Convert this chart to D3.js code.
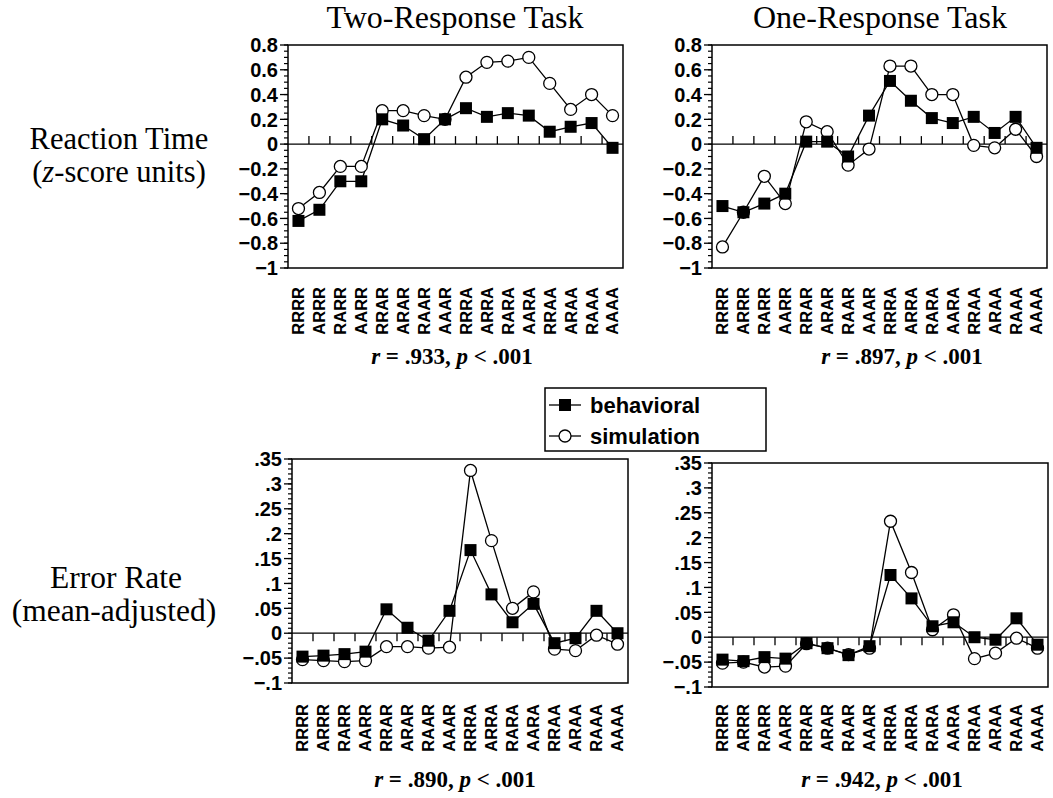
<!doctype html>
<html>
<head>
<meta charset="utf-8">
<script src="https://d3js.org/d3.v7.min.js"></script>
<style>
  body { margin: 0; background: #fff; }
  svg { display: block; }
  .serif { font-family: "Liberation Serif", "Times New Roman", serif; fill: #000; }
  .sans { font-family: "Liberation Sans", Arial, sans-serif; font-weight: bold; fill: #000; }
</style>
</head>
<body>
<div id="chart"></div>
<script>
// conditions (sequence of R / A trials)
var categories = ["RRRR","ARRR","RARR","AARR","RRAR","ARAR","RAAR","AAAR",
                  "RRRA","ARRA","RARA","AARA","RRAA","ARAA","RAAA","AAAA"];

// reaction time, z-score units
var rtTwoBehavioral = [-0.62,-0.53,-0.30,-0.30,0.20,0.15,0.04,0.20,0.29,0.22,0.25,0.23,0.10,0.14,0.17,-0.03];
var rtTwoSimulation = [-0.52,-0.39,-0.18,-0.18,0.27,0.27,0.23,0.20,0.54,0.66,0.67,0.70,0.49,0.28,0.40,0.23];
var rtOneBehavioral = [-0.50,-0.55,-0.48,-0.40,0.02,0.02,-0.10,0.23,0.51,0.35,0.21,0.17,0.22,0.09,0.22,-0.03];
var rtOneSimulation = [-0.83,-0.55,-0.26,-0.48,0.18,0.10,-0.17,-0.04,0.63,0.63,0.40,0.40,-0.01,-0.03,0.12,-0.10];

// error rate, mean-adjusted
var errTwoBehavioral = [-0.047,-0.045,-0.042,-0.037,0.048,0.011,-0.015,0.045,0.167,0.078,0.022,0.059,-0.020,-0.010,0.045,0.000];
var errTwoSimulation = [-0.053,-0.055,-0.057,-0.055,-0.027,-0.027,-0.030,-0.028,0.327,0.186,0.050,0.083,-0.032,-0.035,-0.004,-0.022];
var errOneBehavioral = [-0.045,-0.048,-0.040,-0.043,-0.012,-0.022,-0.036,-0.018,0.125,0.078,0.022,0.030,0.000,-0.005,0.038,-0.015];
var errOneSimulation = [-0.052,-0.050,-0.060,-0.058,-0.013,-0.022,-0.035,-0.022,0.233,0.130,0.015,0.045,-0.043,-0.032,-0.002,-0.022];

// axis ticks
var rtTicks = [0.8,0.6,0.4,0.2,0,-0.2,-0.4,-0.6,-0.8,-1];
var rtTickLabels = ["0.8","0.6","0.4","0.2","0","\u22120.2","\u22120.4","\u22120.6","\u22120.8","\u22121"];
var errTicks = [0.35,0.3,0.25,0.2,0.15,0.1,0.05,0,-0.05,-0.1];
var errTickLabels = [".35",".3",".25",".2",".15",".1",".05","0","\u2212.05","\u2212.1"];

var svg = d3.select("#chart").append("svg")
    .attr("width", 1053)
    .attr("height", 798);

function drawPanel(p) {
  var x = d3.scaleBand().domain(categories).range([p.left, p.right]);
  var y = d3.scaleLinear().domain([p.ticks[p.ticks.length - 1], p.ticks[0]]).range([p.bottom, p.top]);
  var g = svg.append("g");

  // frame
  g.append("rect")
    .attr("x", p.left).attr("y", p.top)
    .attr("width", p.right - p.left).attr("height", p.bottom - p.top)
    .attr("fill", "none").attr("stroke", "#000").attr("stroke-width", 1.5);

  // minor ticks
  var minor = d3.range(Math.round((y.domain()[1] - y.domain()[0]) / p.minorStep) + 1)
    .map(function(i) { return y.domain()[0] + i * p.minorStep; });
  g.selectAll(".minor").data(minor).enter().append("line")
    .attr("x1", p.left - 4).attr("x2", p.left)
    .attr("y1", function(d) { return y(d); }).attr("y2", function(d) { return y(d); })
    .attr("stroke", "#000").attr("stroke-width", 1.2);

  // major ticks + labels
  g.selectAll(".major").data(p.ticks).enter().append("line")
    .attr("x1", p.left - 8).attr("x2", p.left)
    .attr("y1", function(d) { return y(d); }).attr("y2", function(d) { return y(d); })
    .attr("stroke", "#000").attr("stroke-width", 1.3);
  g.selectAll(".ylab").data(p.ticks).enter().append("text")
    .attr("class", "sans")
    .attr("x", p.left - 10)
    .attr("y", function(d) { return y(d); })
    .attr("dy", "0.36em")
    .attr("text-anchor", "end")
    .style("font-size", "20px")
    .text(function(d, i) { return p.tickLabels[i]; });

  // zero line with category ticks
  g.append("line")
    .attr("x1", p.left).attr("x2", p.right)
    .attr("y1", y(0)).attr("y2", y(0))
    .attr("stroke", "#000").attr("stroke-width", 1.3);
  g.selectAll(".xtick").data(categories.slice(1)).enter().append("line")
    .attr("x1", function(d) { return x(d); }).attr("x2", function(d) { return x(d); })
    .attr("y1", y(0)).attr("y2", y(0) + p.tickDir * 8)
    .attr("stroke", "#000").attr("stroke-width", 1.3);

  // category labels below the frame
  g.selectAll(".xlab").data(categories).enter().append("text")
    .attr("class", "sans")
    .attr("transform", function(d) {
      return "translate(" + (x(d) + x.bandwidth() / 2) + "," + p.labelTop + ")rotate(-90)";
    })
    .attr("dy", "0.36em")
    .attr("text-anchor", "end")
    .style("font-size", "16.5px")
    .text(function(d) { return d; });

  var line = d3.line()
    .x(function(d, i) { return x(categories[i]) + x.bandwidth() / 2; })
    .y(function(d) { return y(d); });

  g.append("path").datum(p.sim).attr("d", line)
    .attr("fill", "none").attr("stroke", "#000").attr("stroke-width", 1.3);
  g.append("path").datum(p.behav).attr("d", line)
    .attr("fill", "none").attr("stroke", "#000").attr("stroke-width", 1.3);

  g.selectAll(".sim").data(p.sim).enter().append("circle")
    .attr("cx", function(d, i) { return x(categories[i]) + x.bandwidth() / 2; })
    .attr("cy", function(d) { return y(d); })
    .attr("r", 6)
    .attr("fill", "#fff").attr("stroke", "#000").attr("stroke-width", 1.3);
  g.selectAll(".beh").data(p.behav).enter().append("rect")
    .attr("x", function(d, i) { return x(categories[i]) + x.bandwidth() / 2 - 6; })
    .attr("y", function(d) { return y(d) - 6; })
    .attr("width", 12).attr("height", 12)
    .attr("fill", "#000");

  // correlation text
  var t = svg.append("text").attr("class", "serif")
    .attr("x", p.statX).attr("y", p.statY)
    .attr("text-anchor", "middle")
    .style("font-size", "23px").style("font-weight", "bold");
  t.append("tspan").style("font-style", "italic").text("r");
  t.append("tspan").text(" = " + p.r + ", ");
  t.append("tspan").style("font-style", "italic").text("p");
  t.append("tspan").text(" < .001");
}

drawPanel({left: 288, right: 623, top: 45, bottom: 268, ticks: rtTicks, tickLabels: rtTickLabels,
  minorStep: 0.05, tickDir: -1, labelTop: 287, behav: rtTwoBehavioral, sim: rtTwoSimulation,
  statX: 452, statY: 364, r: ".933"});
drawPanel({left: 712, right: 1047, top: 45, bottom: 268, ticks: rtTicks, tickLabels: rtTickLabels,
  minorStep: 0.05, tickDir: -1, labelTop: 287, behav: rtOneBehavioral, sim: rtOneSimulation,
  statX: 902, statY: 364, r: ".897"});
drawPanel({left: 292, right: 628, top: 459, bottom: 683, ticks: errTicks, tickLabels: errTickLabels,
  minorStep: 0.01, tickDir: 1, labelTop: 704, behav: errTwoBehavioral, sim: errTwoSimulation,
  statX: 455, statY: 787, r: ".890"});
drawPanel({left: 712, right: 1048, top: 463, bottom: 687, ticks: errTicks, tickLabels: errTickLabels,
  minorStep: 0.01, tickDir: 1, labelTop: 704, behav: errOneBehavioral, sim: errOneSimulation,
  statX: 882, statY: 787, r: ".942"});

// column titles
svg.append("text").attr("class", "serif").attr("x", 455).attr("y", 28)
  .attr("text-anchor", "middle").style("font-size", "32px").text("Two-Response Task");
svg.append("text").attr("class", "serif").attr("x", 880).attr("y", 28)
  .attr("text-anchor", "middle").style("font-size", "32px").text("One-Response Task");

// row labels
svg.append("text").attr("class", "serif").attr("x", 119).attr("y", 149)
  .attr("text-anchor", "middle").style("font-size", "30.5px").text("Reaction Time");
var zl = svg.append("text").attr("class", "serif").attr("x", 119).attr("y", 182)
  .attr("text-anchor", "middle").style("font-size", "30.5px");
zl.append("tspan").text("(");
zl.append("tspan").style("font-style", "italic").text("z");
zl.append("tspan").text("-score units)");
svg.append("text").attr("class", "serif").attr("x", 116).attr("y", 588)
  .attr("text-anchor", "middle").style("font-size", "31.5px").text("Error Rate");
svg.append("text").attr("class", "serif").attr("x", 114).attr("y", 621)
  .attr("text-anchor", "middle").style("font-size", "31.5px").text("(mean-adjusted)");

// legend
var legend = svg.append("g");
legend.append("rect").attr("x", 545).attr("y", 388).attr("width", 221).attr("height", 63)
  .attr("fill", "#fff").attr("stroke", "#000").attr("stroke-width", 1.5);
var entries = [{name: "behavioral", y: 405}, {name: "simulation", y: 436}];
entries.forEach(function(e) {
  legend.append("line").attr("x1", 549).attr("x2", 581).attr("y1", e.y).attr("y2", e.y)
    .attr("stroke", "#000").attr("stroke-width", 1.3);
  if (e.name === "behavioral") {
    legend.append("rect").attr("x", 559).attr("y", e.y - 6).attr("width", 12).attr("height", 12)
      .attr("fill", "#000");
  } else {
    legend.append("circle").attr("cx", 565).attr("cy", e.y).attr("r", 6)
      .attr("fill", "#fff").attr("stroke", "#000").attr("stroke-width", 1.3);
  }
  legend.append("text").attr("class", "sans").attr("x", 590).attr("y", e.y)
    .attr("dy", "0.36em").style("font-size", "22px").text(e.name);
});
</script>
</body>
</html>
